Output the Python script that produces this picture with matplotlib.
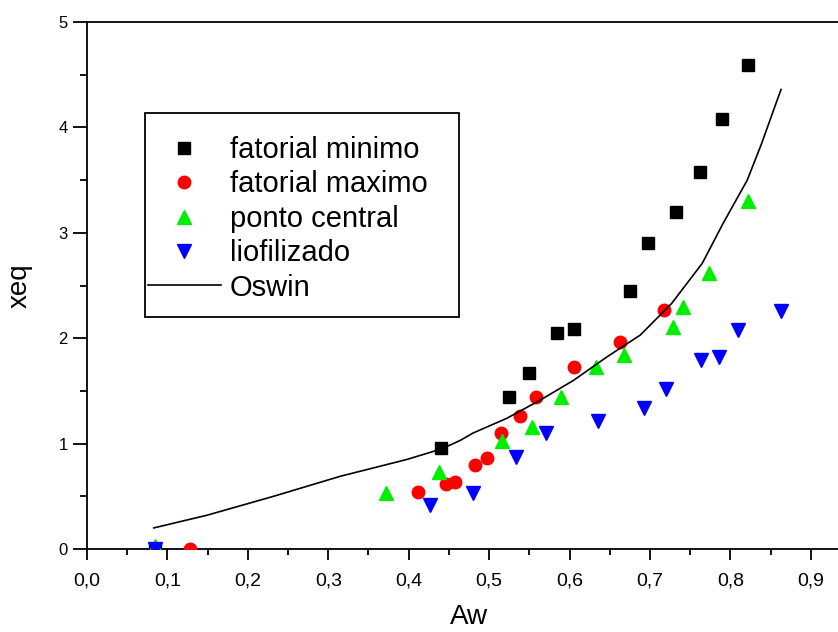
import matplotlib
matplotlib.use("Agg")
import matplotlib.pyplot as plt
from matplotlib.patches import Rectangle
from matplotlib.ticker import MultipleLocator, FuncFormatter

plt.rcParams['font.family'] = ['Liberation Sans', 'DejaVu Sans']

# ---- data ----
min_x = [0.085, 0.440, 0.525, 0.550, 0.585, 0.606, 0.675, 0.698, 0.733, 0.762, 0.789, 0.822]
min_y = [0.00, 0.96, 1.44, 1.67, 2.05, 2.09, 2.45, 2.90, 3.20, 3.58, 4.08, 4.59]

max_x = [0.128, 0.411, 0.447, 0.458, 0.483, 0.498, 0.515, 0.538, 0.558, 0.605, 0.663, 0.717]
max_y = [0.00, 0.54, 0.62, 0.64, 0.80, 0.86, 1.10, 1.26, 1.44, 1.73, 1.96, 2.27]

pc_x = [0.085, 0.372, 0.438, 0.516, 0.553, 0.590, 0.633, 0.668, 0.729, 0.741, 0.774, 0.822]
pc_y = [0.03, 0.53, 0.73, 1.02, 1.16, 1.44, 1.73, 1.84, 2.11, 2.30, 2.62, 3.30]

lio_x = [0.085, 0.427, 0.480, 0.534, 0.571, 0.635, 0.692, 0.720, 0.763, 0.786, 0.809, 0.863]
lio_y = [0.00, 0.42, 0.53, 0.87, 1.10, 1.21, 1.34, 1.52, 1.79, 1.82, 2.08, 2.26]

osw_x = [0.083, 0.149, 0.232, 0.315, 0.398, 0.441, 0.464, 0.480, 0.522, 0.563,
         0.605, 0.646, 0.688, 0.727, 0.765, 0.791, 0.821, 0.839, 0.854, 0.863]
osw_y = [0.20, 0.32, 0.50, 0.69, 0.85, 0.95, 1.03, 1.10, 1.24, 1.41,
         1.60, 1.82, 2.03, 2.33, 2.71, 3.09, 3.50, 3.85, 4.17, 4.36]

labels = ['fatorial minimo', 'fatorial maximo', 'ponto central', 'liofilizado', 'Oswin']

W, H = 838, 632
fig = plt.figure(figsize=(W / 100, H / 100), dpi=100)

x0px, x1px = 87, 851
ytop, ybot = 22, 549
ax = fig.add_axes([x0px / W, 1 - ybot / H, (x1px - x0px) / W, (ybot - ytop) / H])

ms = 9
ax.plot(min_x, min_y, 's', color='black', ms=ms - 1, label=labels[0], clip_on=True, zorder=3)
ax.plot(max_x, max_y, 'o', color='#ff0000', ms=ms, label=labels[1], clip_on=True, zorder=3)
ax.plot(pc_x, pc_y, '^', color='#00ee00', ms=ms + 1, label=labels[2], clip_on=True, zorder=3)
ax.plot(lio_x, lio_y, 'v', color='#0000ff', ms=ms + 1, label=labels[3], clip_on=True, zorder=3)
ax.plot(osw_x, osw_y, '-', color='black', lw=1.2, label=labels[4], zorder=4)

ax.set_xlim(0, 0.95)
ax.set_ylim(0, 5)

for s in ['left', 'bottom', 'top', 'right']:
    ax.spines[s].set_linewidth(1.3)

ax.xaxis.set_major_locator(MultipleLocator(0.1))
ax.xaxis.set_minor_locator(MultipleLocator(0.05))
ax.yaxis.set_major_locator(MultipleLocator(1))
ax.yaxis.set_minor_locator(MultipleLocator(0.5))
ax.xaxis.set_major_formatter(FuncFormatter(lambda v, p: f"{v:.1f}".replace('.', ',')))
ax.yaxis.set_major_formatter(FuncFormatter(lambda v, p: f"{v:.0f}"))

ax.tick_params(axis='x', which='major', direction='out', length=8, width=1.3, labelsize=14, pad=9)
ax.tick_params(axis='x', which='minor', direction='out', length=4, width=1.3)
ax.tick_params(axis='y', which='major', direction='out', length=10, width=1.3, labelsize=12, pad=4)
ax.tick_params(axis='y', which='minor', direction='out', length=5, width=1.3)

ax.set_xlabel('Aw', fontsize=20, labelpad=10)
ax.set_ylabel('xeq', fontsize=20, labelpad=18)

# legend
leg = ax.legend(loc='upper left', bbox_to_anchor=(148 / W, 1 - 136 / H),
                bbox_transform=fig.transFigure, frameon=False, fontsize=21,
                borderpad=0, borderaxespad=0, labelspacing=0.22,
                handlelength=2.5, handletextpad=0.3, numpoints=1)
rect = Rectangle((145 / W, 1 - 317 / H), (459 - 145) / W, (317 - 113) / H,
                 transform=fig.transFigure, fill=False, edgecolor='black', lw=1.3, zorder=10)
fig.add_artist(rect)

fig.savefig('out.png', dpi=100)
